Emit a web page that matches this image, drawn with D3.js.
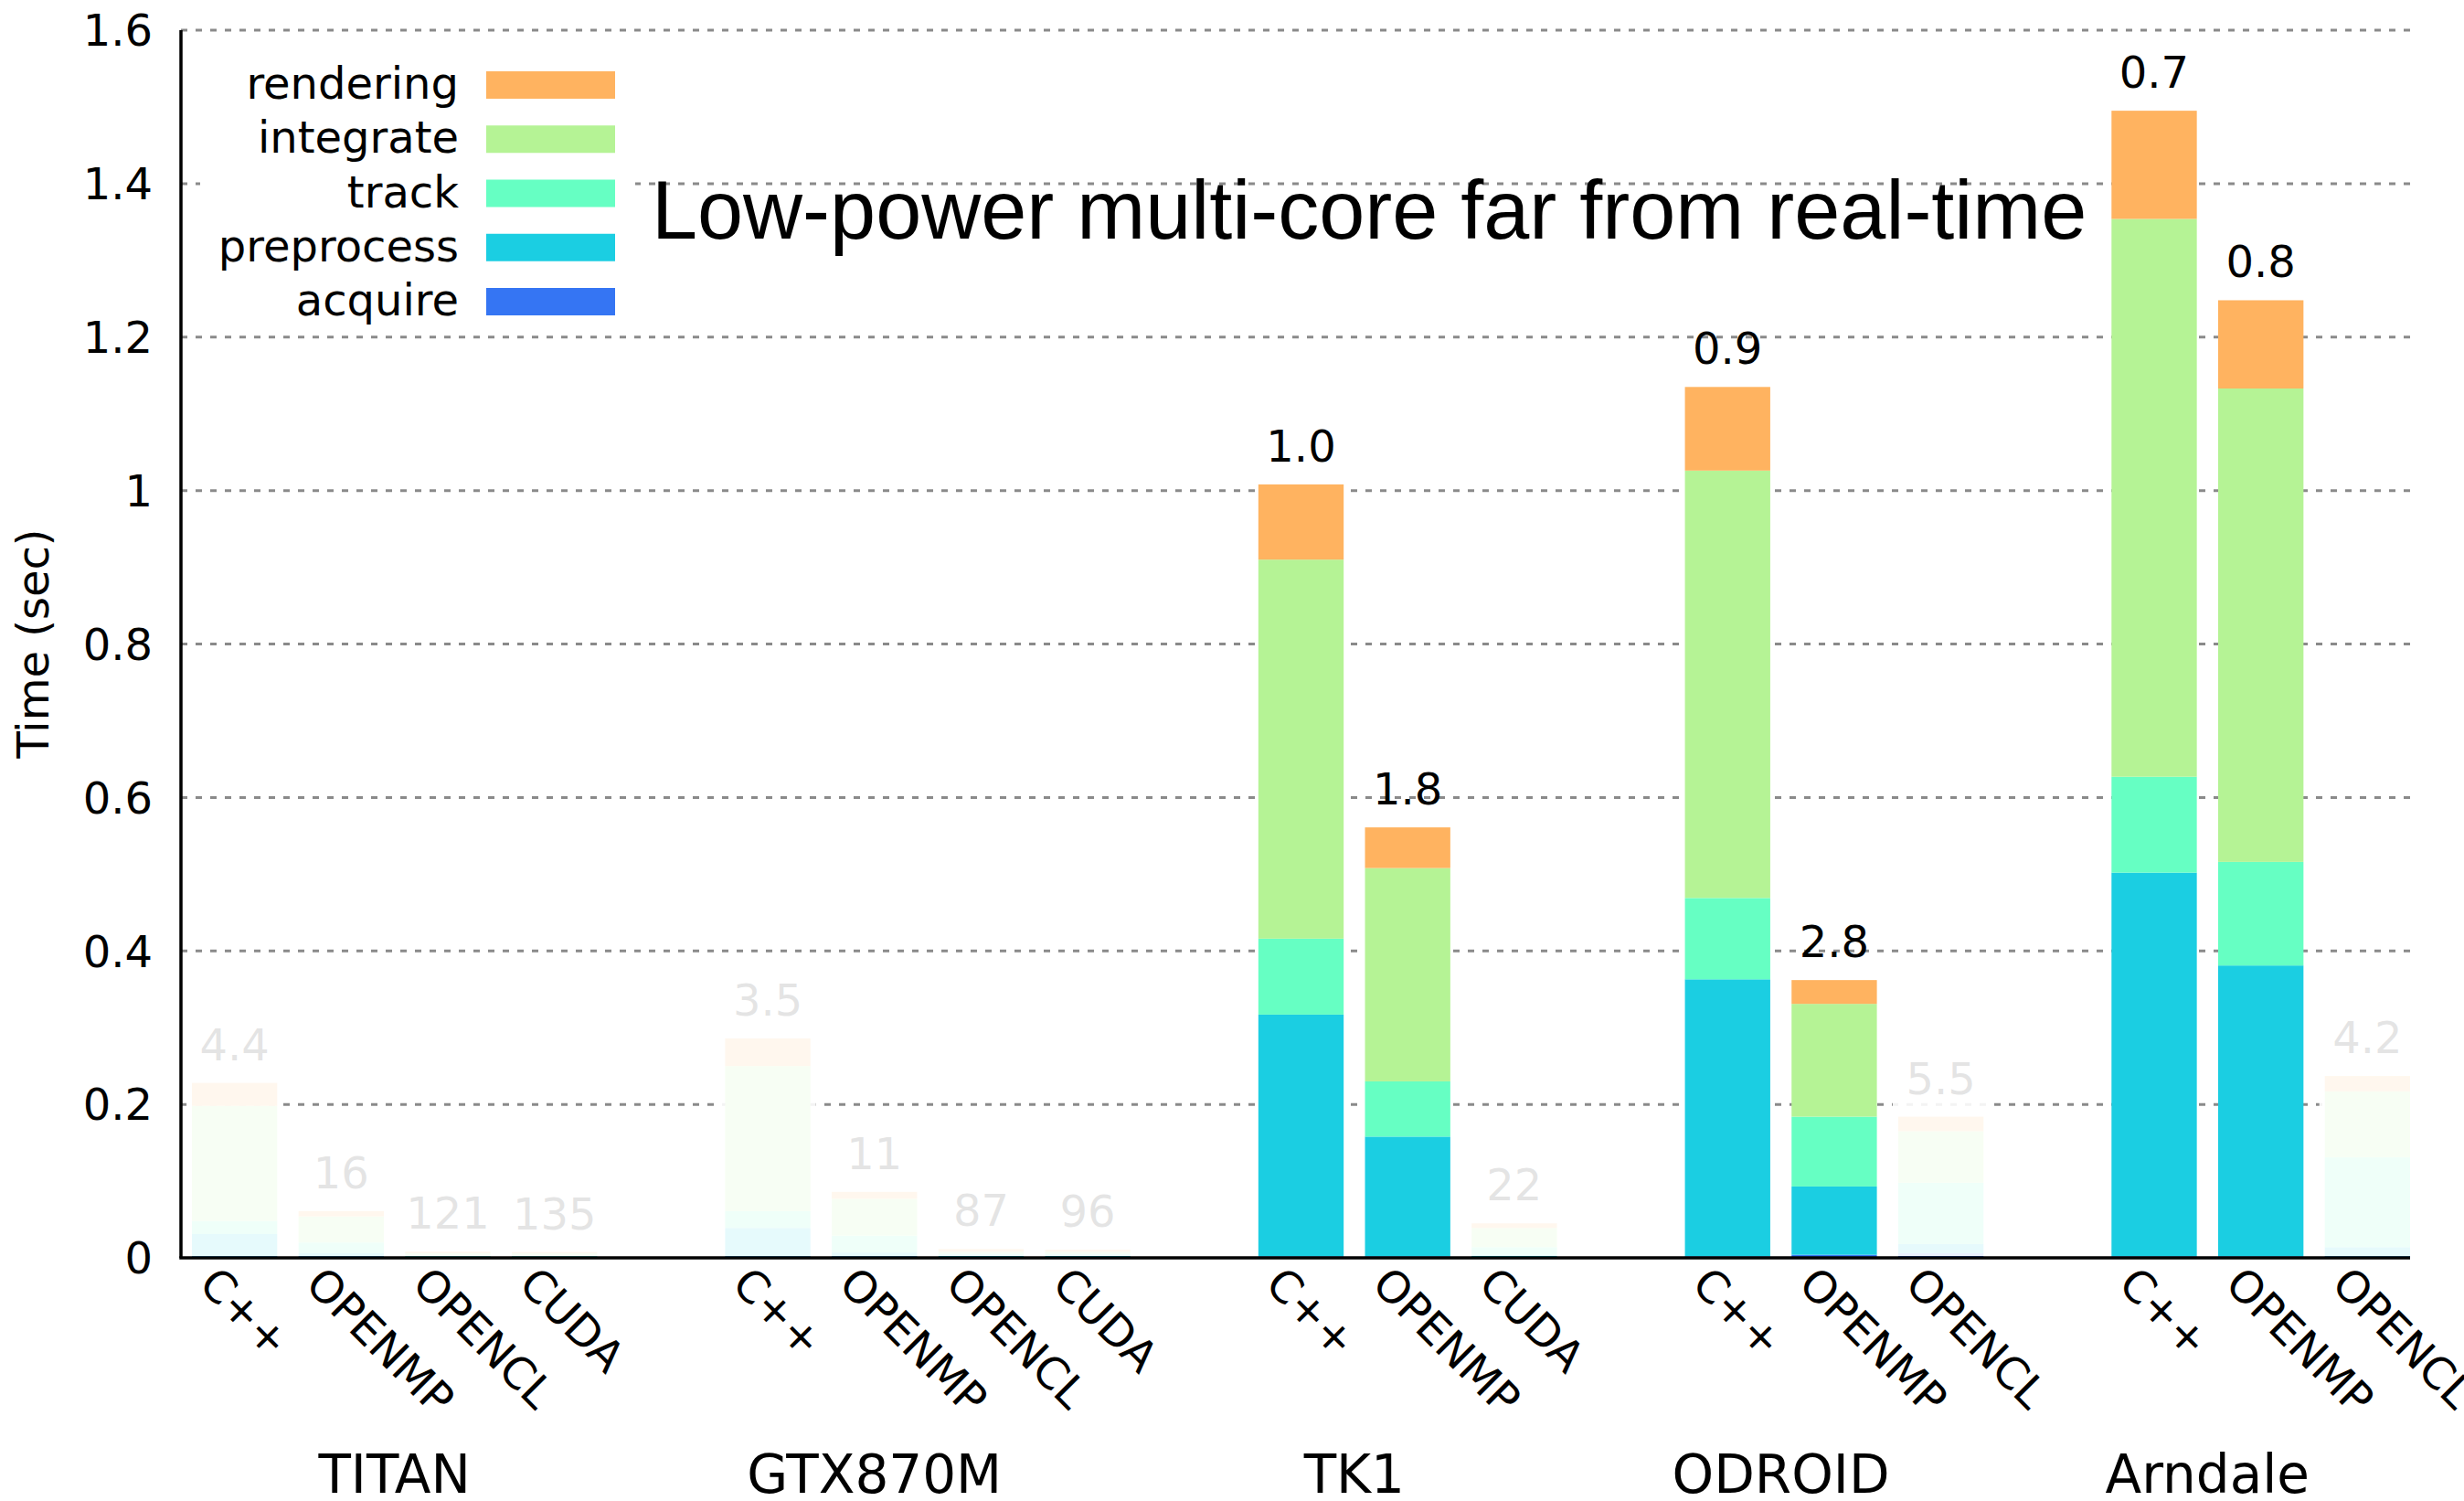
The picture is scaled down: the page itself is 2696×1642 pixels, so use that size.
<!DOCTYPE html>
<html>
<head>
<meta charset="utf-8">
<script src="https://cdn.jsdelivr.net/npm/d3@7"></script>
<style>
  body { margin: 0; background: #fff; }
  text { font-family: "DejaVu Sans", sans-serif; }
</style>
</head>
<body>
<div id="chart"></div>
<script>
const groups = ["TITAN", "GTX870M", "TK1", "ODROID", "Arndale"];
const platform = [
  "TITAN", "TITAN", "TITAN", "TITAN",
  "GTX870M", "GTX870M", "GTX870M", "GTX870M",
  "TK1", "TK1", "TK1",
  "ODROID", "ODROID", "ODROID",
  "Arndale", "Arndale", "Arndale",
];
const impl = [
  "C++", "OPENMP", "OPENCL", "CUDA",
  "C++", "OPENMP", "OPENCL", "CUDA",
  "C++", "OPENMP", "CUDA",
  "C++", "OPENMP", "OPENCL",
  "C++", "OPENMP", "OPENCL",
];
// seconds per frame, one value per bar
const acquire = [0.002, 0.002, 0.001, 0.001, 0.002, 0.002, 0.001, 0.001, 0.002, 0.002, 0.001, 0.002, 0.004, 0.006, 0.002, 0.002, 0.002];
const preprocess = [0.029, 0.004, 0.001, 0.001, 0.037, 0.005, 0.002, 0.002, 0.315, 0.156, 0.003, 0.361, 0.089, 0.012, 0.5, 0.379, 0.012];
const track = [0.017, 0.014, 0.001, 0.001, 0.022, 0.022, 0.002, 0.002, 0.099, 0.072, 0.01, 0.106, 0.091, 0.08, 0.125, 0.135, 0.117];
const integrate = [0.15, 0.034, 0.003, 0.003, 0.189, 0.048, 0.003, 0.003, 0.494, 0.278, 0.025, 0.557, 0.147, 0.067, 0.727, 0.617, 0.086];
const rendering = [0.03, 0.007, 0.002, 0.0015, 0.036, 0.009, 0.0035, 0.0025, 0.098, 0.053, 0.006, 0.109, 0.031, 0.019, 0.141, 0.115, 0.02];
// frames per second shown above the bars
const fpsLabels = ["4.4", "16", "121", "135", "3.5", "11", "87", "96", "1.0", "1.8", "22", "0.9", "2.8", "5.5", "0.7", "0.8", "4.2"];
const highlighted = [false, false, false, false, false, false, false, false, true, true, false, true, true, false, true, true, false];
const yTicks = [0, 0.2, 0.4, 0.6, 0.8, 1, 1.2, 1.4, 1.6];

const series = ["acquire", "preprocess", "track", "integrate", "rendering"];
const seriesValues = { acquire, preprocess, track, integrate, rendering };
const colors = ["#3575F3", "#1BCEE2", "#66FFC3", "#B5F395", "#FFB360"];

const width = 2696;
const height = 1642;
const margin = { top: 33, left: 198, bottom: 1376, right: 2637 };
// where gnuplot put the platform names, in bar slots
const groupLabelSlot = [1.5, 6, 10.5, 14.5, 18.5];

const keys = platform.map((p, i) => p + "|" + impl[i]);
const table = keys.map((k, i) => {
  const row = { key: k };
  series.forEach((s) => (row[s] = seriesValues[s][i]));
  return row;
});

// slots with an empty one between platforms
const domain = [];
groups.forEach((g, gi) => {
  if (gi) domain.push("gap" + gi);
  keys.forEach((k, i) => platform[i] === g && domain.push(k));
});

const svg = d3.select("#chart").append("svg").attr("width", width).attr("height", height);

const x = d3
  .scaleBand()
  .domain(domain)
  .range([margin.left + 0.3, margin.right + 11.7])
  .paddingInner(0.2)
  .paddingOuter(0.1);

const y = d3.scaleLinear().domain([0, 1.6]).range([margin.bottom, margin.top]);

const color = d3.scaleOrdinal().domain(series).range(colors);

// grid
svg
  .append("g")
  .selectAll("line")
  .data(yTicks.slice(1))
  .join("line")
  .attr("x1", margin.left)
  .attr("x2", margin.right)
  .attr("y1", (d) => y(d))
  .attr("y2", (d) => y(d))
  .attr("stroke", "#8a8a8a")
  .attr("stroke-width", 3)
  .attr("stroke-dasharray", "7,9");

// bars
const stacked = d3.stack().keys(series)(table);
svg
  .append("g")
  .selectAll("g")
  .data(stacked)
  .join("g")
  .attr("fill", (d) => color(d.key))
  .selectAll("rect")
  .data((d) => d)
  .join("rect")
  .attr("x", (d) => x(d.data.key))
  .attr("width", x.bandwidth())
  .attr("y", (d) => y(d[1]))
  .attr("height", (d) => y(d[0]) - y(d[1]));

const totals = table.map((r) => d3.sum(series, (s) => r[s]));

// fps labels
svg
  .append("g")
  .selectAll("text")
  .data(keys)
  .join("text")
  .attr("x", (k) => x(k) + x.bandwidth() / 2)
  .attr("y", (k, i) => y(totals[i]) - 25)
  .attr("text-anchor", "middle")
  .style("font-size", "48px")
  .attr("fill", "#000")
  .text((k, i) => fpsLabels[i]);

// wash out the configurations that are not of interest
svg
  .append("g")
  .selectAll("rect")
  .data(keys.filter((k, i) => !highlighted[i]))
  .join("rect")
  .attr("x", (k) => x(k) - 6)
  .attr("width", x.bandwidth() + 12)
  .attr("y", (k) => y(totals[keys.indexOf(k)]) - 80)
  .attr("height", (k) => margin.bottom - 2 - y(totals[keys.indexOf(k)]) + 80)
  .attr("fill", "#fff")
  .attr("opacity", 0.895);

// axes
svg
  .append("line")
  .attr("x1", margin.left)
  .attr("x2", margin.left)
  .attr("y1", margin.top)
  .attr("y2", margin.bottom)
  .attr("stroke", "#000")
  .attr("stroke-width", 3.5);
svg
  .append("line")
  .attr("x1", margin.left - 1.75)
  .attr("x2", margin.right)
  .attr("y1", margin.bottom)
  .attr("y2", margin.bottom)
  .attr("stroke", "#000")
  .attr("stroke-width", 3.5);

svg
  .append("g")
  .selectAll("text")
  .data(yTicks)
  .join("text")
  .attr("x", margin.left - 31)
  .attr("y", (d) => y(d))
  .attr("dy", "0.36em")
  .attr("text-anchor", "end")
  .style("font-size", "48px")
  .text(d3.format("~g"));

// rotated implementation names
svg
  .append("g")
  .selectAll("text")
  .data(keys)
  .join("text")
  .attr("transform", (k) => `translate(${x(k) + x.bandwidth() / 2 - 41},${margin.bottom + 31}) rotate(45)`)
  .style("font-size", "48px")
  .text((k, i) => impl[i]);

const slotX = (s) => x(domain[0]) + s * x.step() + x.bandwidth() / 2;
svg
  .append("g")
  .selectAll("text")
  .data(groups)
  .join("text")
  .attr("x", (g, i) => slotX(groupLabelSlot[i]))
  .attr("y", 1633)
  .attr("text-anchor", "middle")
  .style("font-size", "58px")
  .text((g) => g);

svg
  .append("text")
  .attr("transform", "translate(53,704) rotate(-90)")
  .attr("text-anchor", "middle")
  .style("font-size", "48px")
  .text("Time (sec)");

// legend (opaque key)
svg.append("rect").attr("x", 219).attr("y", 55).attr("width", 476).attr("height", 303).attr("fill", "#fff");
const legend = svg
  .append("g")
  .selectAll("g")
  .data(series.slice().reverse())
  .join("g")
  .attr("transform", (d, i) => `translate(0,${93 + i * 59.25})`);
legend
  .append("rect")
  .attr("x", 532)
  .attr("y", -15)
  .attr("width", 141)
  .attr("height", 30)
  .attr("fill", color);
legend
  .append("text")
  .attr("x", 502)
  .attr("y", 15)
  .attr("text-anchor", "end")
  .style("font-size", "48px")
  .text((d) => d);

svg
  .append("text")
  .attr("x", 713)
  .attr("y", 261)
  .style("font-family", "'Liberation Sans', Arial, sans-serif")
  .style("font-size", "90px")
  .text("Low-power multi-core far from real-time");
</script>
</body>
</html>
